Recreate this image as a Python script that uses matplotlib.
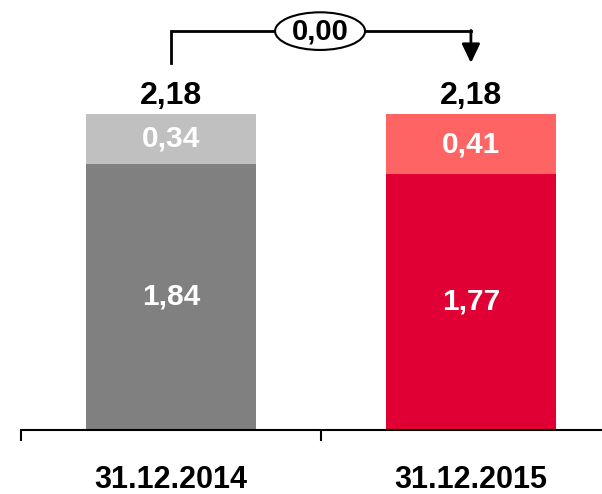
import matplotlib
matplotlib.use("Agg")
import matplotlib.pyplot as plt
from matplotlib.patches import Ellipse

categories = ["31.12.2014", "31.12.2015"]
base_values = [1.84, 1.77]
top_values = [0.34, 0.41]
totals = [2.18, 2.18]
change_label = "0,00"

base_colors = ["#808080", "#E10033"]
top_colors = ["#C0C0C0", "#FF6464"]

def fmt(v):
    return f"{v:.2f}".replace(".", ",")

plt.rcParams['font.family'] = ['Liberation Sans', 'DejaVu Sans']

fig = plt.figure(figsize=(6.02, 4.94), dpi=100)
ax = fig.add_axes([0, 0, 1, 1])

x = list(range(len(categories)))
width = 0.565
ax.bar(x, base_values, width=width, color=base_colors, zorder=2)
ax.bar(x, top_values, width=width, bottom=base_values, color=top_colors, zorder=2)

for i in x:
    ax.text(i, base_values[i] / 2, fmt(base_values[i]), ha='center', va='center',
            color='white', fontsize=21.5, fontweight='bold', zorder=3)
    ax.text(i, base_values[i] + top_values[i] / 2, fmt(top_values[i]), ha='center', va='center',
            color='white', fontsize=21.5, fontweight='bold', zorder=3)
    ax.text(i, totals[i] + 0.13, fmt(totals[i]), ha='center', va='center',
            color='black', fontsize=23, fontweight='bold', zorder=3)
    ax.annotate(categories[i], xy=(i, 0), xytext=(0, -36), textcoords='offset points',
                ha='center', va='center', fontsize=22, fontweight='bold', color='black')

# bracket
y_low0 = totals[0] + 0.355
y_high = max(totals) + 0.575
y_low1 = totals[1] + 0.355
ax.plot([0, 0, 1], [y_low0, y_high, y_high], color='black', lw=2, zorder=3,
        solid_joinstyle='miter')
ax.annotate('', xy=(1, y_low1), xytext=(1, y_high + 0.005),
            arrowprops=dict(arrowstyle='-|>,head_length=1.15,head_width=0.55', color='black',
                            lw=2, shrinkA=0, shrinkB=0), zorder=3)
ell = Ellipse((0.497, y_high), width=0.30, height=0.26, facecolor='white',
              edgecolor='black', lw=1.5, zorder=4)
ax.add_patch(ell)
ax.text(0.497, y_high, change_label, ha='center', va='center', fontsize=21,
        fontweight='bold', color='black', zorder=5)

# axis
for s in ['top', 'right', 'left']:
    ax.spines[s].set_visible(False)
ax.spines['bottom'].set_position(('data', 0))
ax.set_xticks([-0.5, 0.5, 1.5])
ax.set_xticklabels([])
ax.tick_params(axis='x', direction='out', length=8, width=1.5, colors='black')
ax.set_yticks([])
ax.set_xlim(-0.57, 1.437)
ax.set_ylim(-0.442, 2.970)
ax.spines['bottom'].set_bounds(-0.5, 1.437)
ax.spines['bottom'].set_linewidth(1.5)

fig.savefig("out.png", dpi=100)
